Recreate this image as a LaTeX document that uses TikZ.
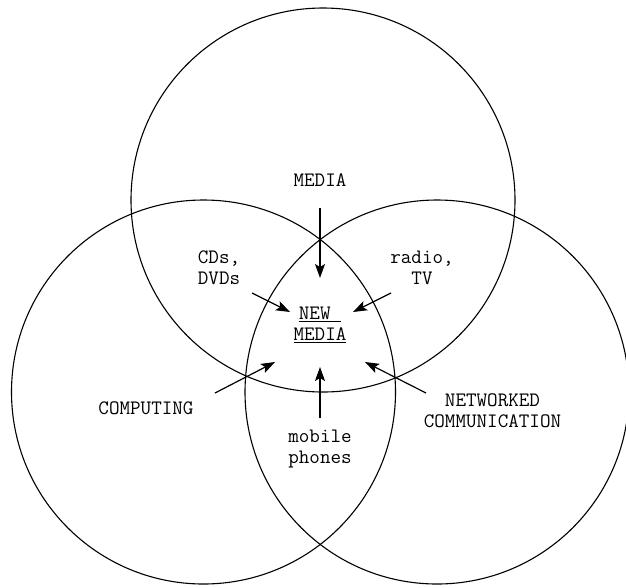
\documentclass[tikz,border=0pt]{standalone}
\usepackage{fontspec}
\usetikzlibrary{arrows.meta}
\begin{document}
\begin{tikzpicture}[x=1pt,y=-1pt,
  ring/.style={draw=black,line width=1.1pt},
  lbl/.style={font=\ttfamily\fontsize{20.5}{21}\selectfont,align=center,inner sep=0pt},
  feed/.style={line width=1.2pt,-{Stealth[length=14pt,width=10pt,inset=3pt]}}]
\useasboundingbox (0,0) rectangle (626,587);
\clip (0,0) rectangle (626,587);
% the three overlapping fields
\draw[ring] (323,200) circle[radius=192];
\draw[ring] (203.5,392) circle[radius=192];
\draw[ring] (437,392) circle[radius=192];
% labels
\node[lbl] (media) at (320,180) {MEDIA};
\node[lbl] (cds) at (219,268) {CDs,\\DVDs};
\node[lbl] (radio) at (422,268) {radio,\\TV};
\node[lbl] (newmedia) at (320,325) {\underline{NEW\ }\\\underline{MEDIA}};
\node[lbl] (computing) at (146,408) {COMPUTING};
\node[lbl] (networked) at (492.5,411) {NETWORKED\\COMMUNICATION};
\node[lbl] (mobile) at (320,449) {mobile\\phones};
% arrow ends
\coordinate (mediaA) at (320,208);   \coordinate (mediaB) at (320,278);
\coordinate (cdsA) at (252,293);     \coordinate (cdsB) at (290,312);
\coordinate (radioA) at (391,293);   \coordinate (radioB) at (353,312);
\coordinate (compA) at (215,393);    \coordinate (compB) at (275,362);
\coordinate (mobA) at (320,418);     \coordinate (mobB) at (320,367);
\coordinate (netA) at (426,393);     \coordinate (netB) at (365,362);
\draw[feed] (mediaA) -- (mediaB);
\draw[feed] (cdsA) -- (cdsB);
\draw[feed] (radioA) -- (radioB);
\draw[feed] (compA) -- (compB);
\draw[feed] (mobA) -- (mobB);
\draw[feed] (netA) -- (netB);
\end{tikzpicture}
\end{document}
